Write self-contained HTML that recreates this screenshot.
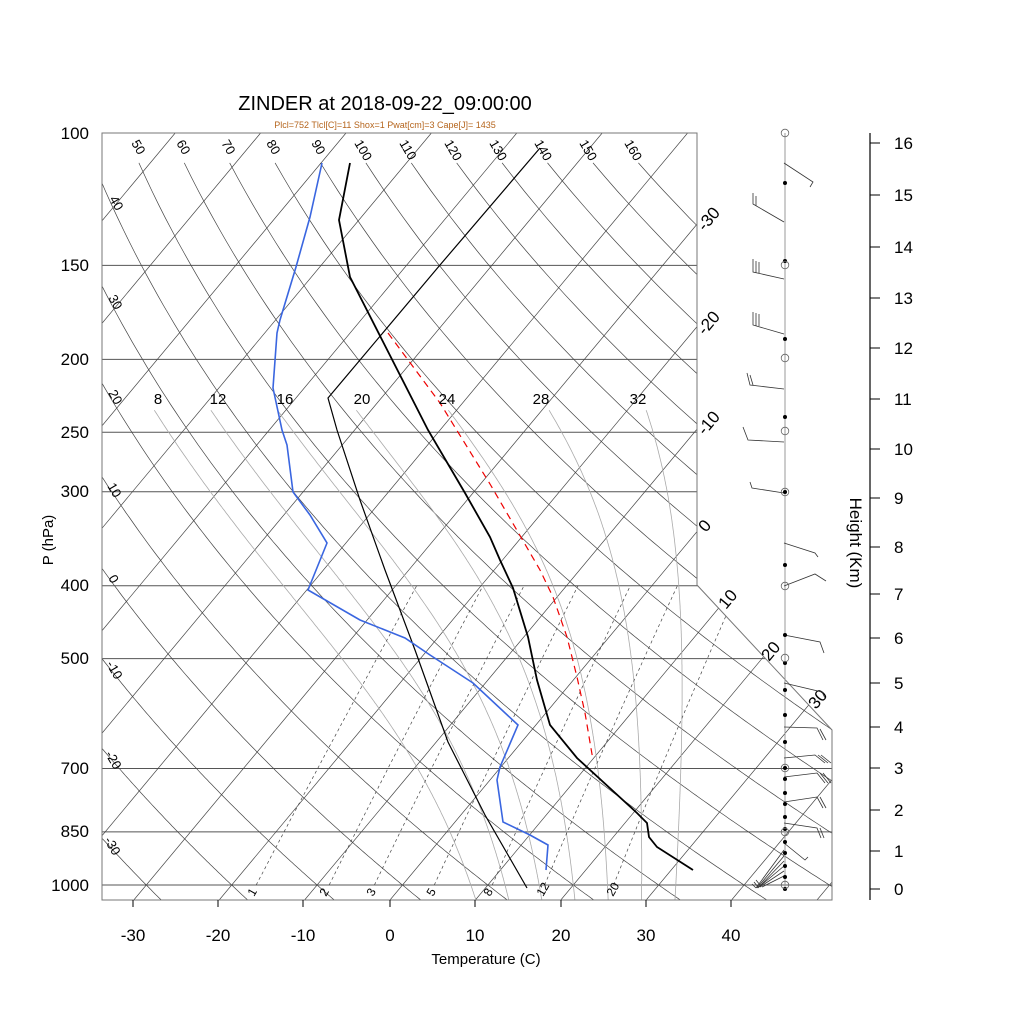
<!DOCTYPE html>
<html><head><meta charset="utf-8"><style>
html,body{margin:0;padding:0;background:#fff;}
svg{display:block;font-family:"Liberation Sans",sans-serif;}
</style></head><body>
<svg id="s" width="1024" height="1024" viewBox="0 0 1024 1024" xmlns="http://www.w3.org/2000/svg">
<defs><clipPath id="cp"><polygon points="102,133 697,133 697,585 832,730 832,900 102,900"/></clipPath></defs>
<rect width="1024" height="1024" fill="#fff"/>
<g id="grid" clip-path="url(#cp)"></g>
<polygon points="102,133 697,133 697,585 832,730 832,900 102,900" fill="none" stroke="#777" stroke-width="1"/>
<g id="bt" stroke="#000" stroke-width="1"></g>
<g id="data" fill="none"></g>

<text x="385" y="110" font-size="20" text-anchor="middle">ZINDER at 2018-09-22_09:00:00</text>
<text x="385" y="128" font-size="9" text-anchor="middle" fill="#b5651d">Plcl=752 Tlcl[C]=11 Shox=1 Pwat[cm]=3 Cape[J]= 1435</text>

<g font-size="17" text-anchor="end">
<text x="89" y="139">100</text><text x="89" y="271">150</text><text x="89" y="365">200</text>
<text x="89" y="438">250</text><text x="89" y="497">300</text><text x="89" y="591">400</text>
<text x="89" y="664">500</text><text x="89" y="774">700</text><text x="89" y="837">850</text>
<text x="89" y="891">1000</text>
</g>
<text transform="translate(53,540) rotate(-90)" font-size="15" text-anchor="middle">P (hPa)</text>
<g font-size="17" text-anchor="middle">
<text x="133" y="941">-30</text><text x="218" y="941">-20</text><text x="303" y="941">-10</text>
<text x="390" y="941">0</text><text x="475" y="941">10</text><text x="561" y="941">20</text>
<text x="646" y="941">30</text><text x="731" y="941">40</text>
</g>
<text x="486" y="964" font-size="15" text-anchor="middle">Temperature (C)</text>

<g font-size="13">
<text transform="translate(131,143) rotate(60)">50</text>
<text transform="translate(176,143) rotate(60)">60</text>
<text transform="translate(221,143) rotate(60)">70</text>
<text transform="translate(266,143) rotate(60)">80</text>
<text transform="translate(311,143) rotate(60)">90</text>
<text transform="translate(354,143) rotate(60)">100</text>
<text transform="translate(399,143) rotate(60)">110</text>
<text transform="translate(444,143) rotate(60)">120</text>
<text transform="translate(489,143) rotate(60)">130</text>
<text transform="translate(534,143) rotate(60)">140</text>
<text transform="translate(579,143) rotate(60)">150</text>
<text transform="translate(624,143) rotate(60)">160</text>
<text transform="translate(109,199) rotate(60)">40</text>
<text transform="translate(108,298) rotate(60)">30</text>
<text transform="translate(108,393) rotate(60)">20</text>
<text transform="translate(107,486) rotate(60)">10</text>
<text transform="translate(108,578) rotate(60)">0</text>
<text transform="translate(106,664) rotate(60)">-10</text>
<text transform="translate(105,754) rotate(60)">-20</text>
<text transform="translate(104,840) rotate(60)">-30</text>
</g>
<g font-size="15" text-anchor="middle">
<text x="158" y="404">8</text><text x="218" y="404">12</text><text x="285" y="404">16</text>
<text x="362" y="404">20</text><text x="447" y="404">24</text><text x="541" y="404">28</text>
<text x="638" y="404">32</text>
</g>
<g font-size="12">
<text transform="translate(254,897) rotate(-60)">1</text>
<text transform="translate(326,897) rotate(-60)">2</text>
<text transform="translate(373,897) rotate(-60)">3</text>
<text transform="translate(433,897) rotate(-60)">5</text>
<text transform="translate(490,897) rotate(-60)">8</text>
<text transform="translate(543,897) rotate(-60)">12</text>
<text transform="translate(613,897) rotate(-60)">20</text>
</g>
<g font-size="17">
<text transform="translate(705,232) rotate(-50)">-30</text>
<text transform="translate(705,336) rotate(-50)">-20</text>
<text transform="translate(705,436) rotate(-50)">-10</text>
<text transform="translate(706,533) rotate(-50)">0</text>
<text transform="translate(726,610) rotate(-50)">10</text>
<text transform="translate(769,662) rotate(-50)">20</text>
<text transform="translate(816,710) rotate(-50)">30</text>
</g>

<line x1="870" y1="133" x2="870" y2="900" stroke="#000" stroke-width="1.2"/>
<g id="ht" stroke="#000" stroke-width="1"></g>
<g font-size="17">
<text x="894" y="149">16</text><text x="894" y="201">15</text><text x="894" y="253">14</text>
<text x="894" y="304">13</text><text x="894" y="354">12</text><text x="894" y="405">11</text>
<text x="894" y="455">10</text><text x="894" y="504">9</text><text x="894" y="553">8</text>
<text x="894" y="600">7</text><text x="894" y="644">6</text><text x="894" y="689">5</text>
<text x="894" y="733">4</text><text x="894" y="774">3</text><text x="894" y="816">2</text>
<text x="894" y="857">1</text><text x="894" y="895">0</text>
</g>
<text transform="translate(850,543) rotate(90)" font-size="17" text-anchor="middle">Height (Km)</text>

<line x1="785" y1="133" x2="785" y2="890" stroke="#999" stroke-width="1"/>
<g id="wb" stroke="#333" stroke-width="0.8" fill="none"></g>
<g id="dots"></g>

<script>
(function(){
var NS="http://www.w3.org/2000/svg";
function Y(p){return 133+326.6*Math.log(p/100);}
function X(T,y){return 390+8.54*T+(900-y)/1.2;}
function el(g,tag,attrs){var e=document.createElementNS(NS,tag);for(var k in attrs)e.setAttribute(k,attrs[k]);g.appendChild(e);return e;}
function pl(g,pts,attrs){attrs.points=pts.map(function(p){return p[0].toFixed(1)+","+p[1].toFixed(1);}).join(" ");attrs.fill="none";return el(g,"polyline",attrs);}
var grid=document.getElementById("grid");
[100,150,200,250,300,400,500,700,850,1000].forEach(function(p){var y=Y(p);pl(grid,[[102,y],[840,y]],{stroke:"#555","stroke-width":1});});
for(var T=-130;T<=60;T+=10){pl(grid,[[X(T,133),133],[X(T,900),900]],{stroke:"#444","stroke-width":0.7});}
for(var th=-30;th<=160;th+=10){var pts=[];for(var p=109.6;p<=1060;p+=5){var y=Y(p);var t=(th+273.15)*Math.pow(p/1000,0.2857)-273.15;pts.push([X(t,y),y]);}pl(grid,pts,{stroke:"#444","stroke-width":0.7});}
function es(t){return 6.112*Math.exp(17.67*t/(t+243.5));}
function dTdp(t,p){var Tk=t+273.15,e=es(t),rs=0.622*e/(p-e);return (287*Tk+2.5e6*rs)/(p*(1004+2.5e6*2.5e6*rs*0.622/(287*Tk*Tk)));}
[8,12,16,20,24,28,32].forEach(function(tw){var pts=[];var t=tw,p=1000;while(p<1055){t+=dTdp(t,p)*2;p+=2;}
 var pstop=233.7;while(p>pstop){var y=Y(p);pts.push([X(t,y),y]);var d=Math.min(2,p-pstop);t-=dTdp(t,p)*d;p-=d;}var y2=Y(p);pts.push([X(t,y2),y2]);
 pl(grid,pts,{stroke:"#aaa","stroke-width":0.8});});
[1,2,3,5,8,12,20].forEach(function(w){var pts=[];for(var p=1000;p>=400;p-=10){var e=w*p/(622+w);var l=Math.log(e/6.112);var td=243.5*l/(17.67-l);var y=Y(p);pts.push([X(td,y),y]);}pl(grid,pts,{stroke:"#444","stroke-width":0.7,"stroke-dasharray":"3,3"});});
var bt=document.getElementById("bt");[133,218,303,390,475,561,646,731].forEach(function(x){el(bt,"line",{x1:x,y1:900,x2:x,y2:907});});
var ht=document.getElementById("ht");[143,195,247,298,348,399,449,498,547,594,638,683,727,768,810,851,889].forEach(function(y){el(ht,"line",{x1:870,y1:y,x2:880,y2:y});});
var d=document.getElementById("data");
pl(d,[[527,888],[485,815],[448,742],[415,650],[385,570],[360,500],[337,430],[328,398],[440,265],[540,148]],{stroke:"#000","stroke-width":1.2});
pl(d,[[388,333],[440,403],[490,484],[540,570],[553,597],[567,637],[577,677],[585,713],[593,760]],{stroke:"#e00","stroke-width":1.2,"stroke-dasharray":"7,5"});
pl(d,[[350,163],[339,220],[350,277],[428,430],[465,493],[490,537],[500,560],[513,588],[528,637],[537,680],[550,725],[577,758],[637,813],[647,823],[649,837],[657,847],[693,870]],{stroke:"#000","stroke-width":1.8});
pl(d,[[322,163],[310,217],[296,267],[280,320],[277,333],[273,388],[282,430],[287,445],[293,492],[310,515],[327,543],[308,590],[360,620],[405,638],[430,655],[450,668],[473,683],[518,725],[500,767],[497,780],[503,822],[530,835],[548,845],[546,870]],{stroke:"#3a66e0","stroke-width":1.6});
var wb=document.getElementById("wb");
var B=[
[[784,163],[813,182],[810,187]],
[[784,222],[753,204],[753,193]],[[756,206],[756,196]],
[[784,279],[753,272],[753,259]],[[756,273],[756,261]],[[759,273],[759,262]],
[[784,334],[753,325],[753,312]],[[756,326],[756,313]],[[759,326],[759,314]],
[[784,389],[750,385],[747,373]],[[753,385],[750,375]],
[[784,442],[748,440],[743,427]],
[[784,493],[752,488],[750,482]],
[[784,543],[815,553],[818,557]],
[[784,586],[815,574],[826,581]],
[[784,635],[820,642],[824,653]],
[[784,683],[822,692],[825,698]],
[[784,727],[817,728],[823,740]],[[820,729],[826,740]],
[[784,758],[815,755],[825,763]],[[818,755],[828,763]],[[821,755],[831,763]],
[[784,777],[817,773],[825,783]],[[820,773],[828,783]],[[823,773],[831,783]],
[[784,802],[817,797],[823,808]],[[820,797],[826,808]],
[[784,823],[817,828],[821,838]],[[820,828],[824,838]],
[[784,843],[805,860],[808,857]],
[[784,850],[756,888]],[[784,856],[757,888]],[[784,861],[758,888]],[[784,866],[759,887]],[[784,871],[760,887]],[[784,876],[762,887]],
[[756,888],[752,884]],[[758,887],[754,882]],[[760,885],[756,880]]
];
B.forEach(function(b){pl(wb,b,{});});
var dg=document.getElementById("dots");
[183,261,339,417,492,565,635,663,690,715,742,768,779,793,804,817,829,842,853,866,877,889].forEach(function(y){el(dg,"circle",{cx:785,cy:y,r:2,fill:"#000"});});
[133,265,358,431,492,586,658,768,832,885].forEach(function(y){el(dg,"circle",{cx:785,cy:y,r:3.8,fill:"none",stroke:"#666","stroke-width":0.8});});
})();
</script>
</svg>
</body></html>
